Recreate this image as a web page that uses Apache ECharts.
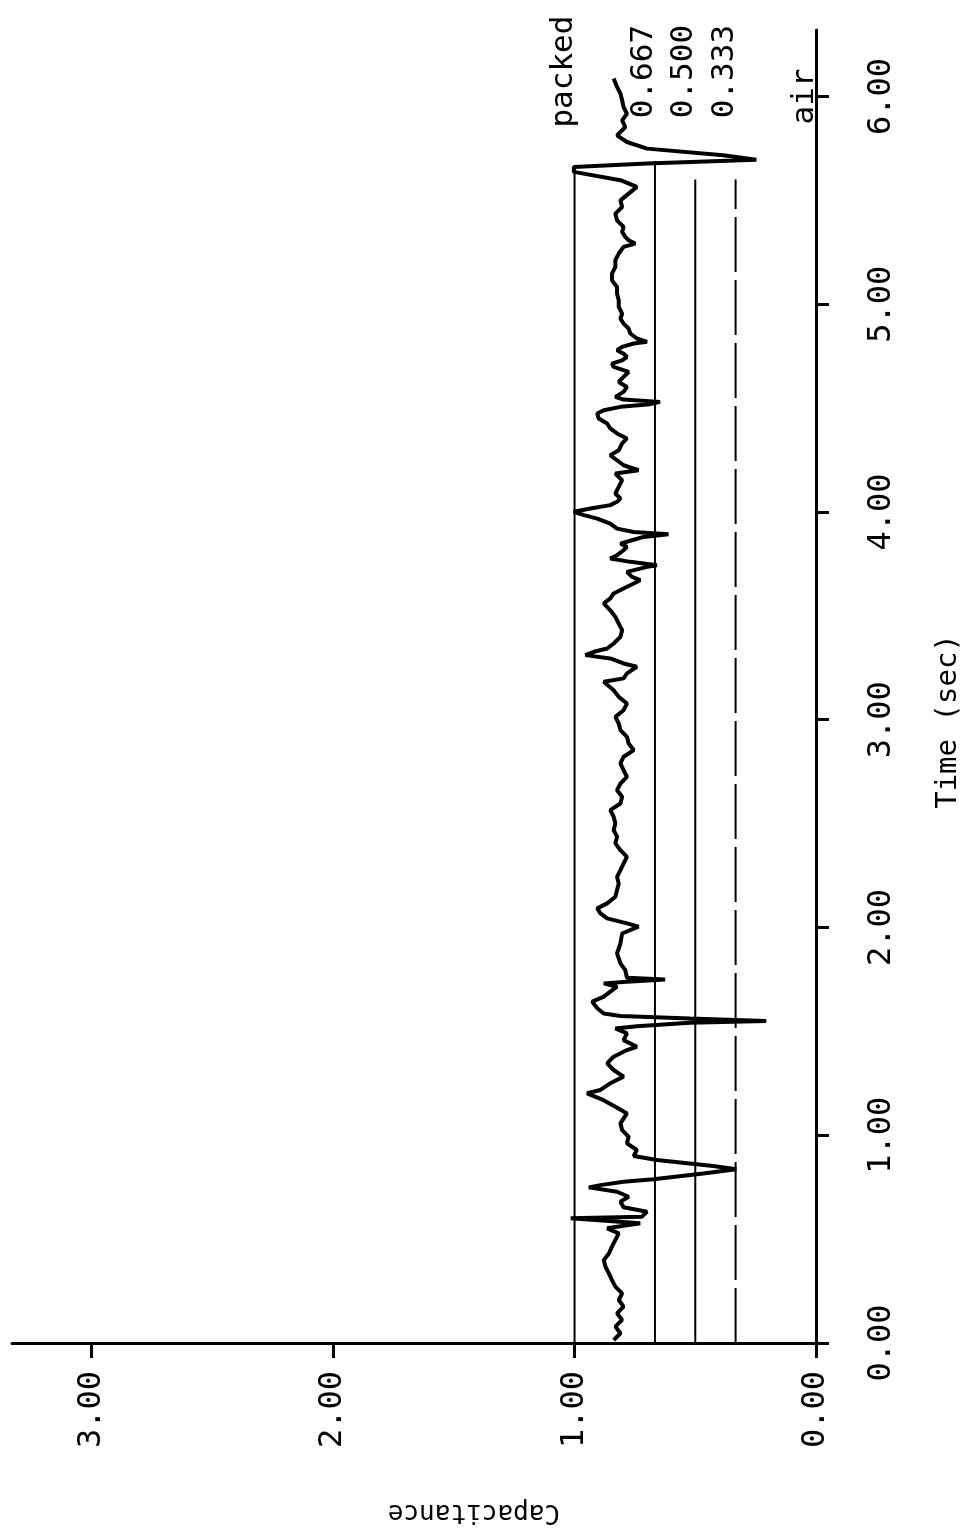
<!DOCTYPE html>
<html><head><meta charset="utf-8">
<script src="https://cdn.jsdelivr.net/npm/echarts@6/dist/echarts.min.js"></script>
<style>html,body{margin:0;padding:0;background:#fff}#c{width:971px;height:1537px}</style>
</head><body><div id="c"></div>
<script>
// Time (sec) of each trace sample
const timeSec = [
 0.014,0.047,0.079,0.111,0.143,0.175,0.207,0.239,0.271,0.303,0.335,0.367,0.399,0.431,0.464,0.496,0.528,0.552,
 0.576,0.600,0.608,0.632,0.653,0.680,0.704,0.728,0.749,0.760,0.776,0.788,0.816,0.836,0.852,0.881,0.900,0.929,
 0.961,0.993,1.025,1.057,1.105,1.137,1.169,1.202,1.218,1.250,1.282,1.314,1.346,1.378,1.410,1.426,1.458,1.490,
 1.514,1.525,1.542,1.550,1.562,1.574,1.586,1.611,1.643,1.667,1.691,1.715,1.731,1.739,1.750,1.758,1.795,1.827,
 1.875,1.923,1.971,2.004,2.020,2.044,2.068,2.092,2.116,2.148,2.180,2.212,2.244,2.276,2.308,2.340,2.372,2.405,
 2.437,2.469,2.501,2.533,2.565,2.597,2.629,2.661,2.693,2.725,2.757,2.790,2.822,2.854,2.886,2.918,2.950,2.982,
 3.014,3.046,3.078,3.110,3.142,3.183,3.199,3.223,3.255,3.271,3.295,3.311,3.327,3.343,3.367,3.399,3.431,3.463,
 3.495,3.527,3.560,3.584,3.608,3.632,3.656,3.672,3.688,3.712,3.736,3.744,3.760,3.776,3.792,3.816,3.832,3.848,
 3.864,3.880,3.893,3.904,3.920,3.944,3.968,3.985,4.001,4.017,4.033,4.049,4.065,4.089,4.121,4.153,4.185,4.201,
 4.225,4.249,4.273,4.297,4.330,4.354,4.378,4.402,4.426,4.450,4.474,4.490,4.506,4.519,4.530,4.541,4.554,4.578,
 4.602,4.626,4.650,4.674,4.698,4.714,4.730,4.746,4.762,4.779,4.795,4.811,4.819,4.835,4.859,4.883,4.907,4.931,
 4.955,4.987,5.019,5.051,5.083,5.115,5.147,5.180,5.212,5.244,5.276,5.292,5.308,5.324,5.348,5.372,5.404,5.436,
 5.468,5.500,5.565,5.597,5.637,5.661,5.677,5.696,5.717,5.749,5.781,5.813,5.853,5.885,5.917,5.949,5.982,6.014,
 6.046,6.086
];
// Capacitance of each trace sample
const capacitance = [
 0.838,0.810,0.831,0.803,0.824,0.797,0.817,0.803,0.831,0.845,0.858,0.872,0.879,0.858,0.845,0.831,0.817,0.865,
 0.728,1.016,0.721,0.700,0.797,0.810,0.776,0.824,0.941,0.893,0.797,0.673,0.467,0.330,0.426,0.659,0.755,0.742,
 0.783,0.776,0.803,0.810,0.783,0.831,0.880,0.948,0.893,0.852,0.797,0.838,0.865,0.838,0.783,0.742,0.797,0.783,
 0.831,0.742,0.522,0.206,0.522,0.810,0.879,0.906,0.927,0.879,0.852,0.824,0.879,0.783,0.625,0.783,0.790,0.810,
 0.824,0.810,0.803,0.735,0.783,0.865,0.893,0.906,0.865,0.831,0.824,0.817,0.824,0.810,0.797,0.783,0.810,0.831,
 0.824,0.838,0.831,0.838,0.852,0.810,0.803,0.824,0.810,0.783,0.797,0.810,0.797,0.755,0.776,0.783,0.810,0.817,
 0.831,0.797,0.783,0.817,0.838,0.879,0.797,0.783,0.742,0.797,0.852,0.955,0.920,0.865,0.838,0.810,0.803,0.817,
 0.831,0.852,0.879,0.852,0.838,0.797,0.755,0.728,0.762,0.783,0.700,0.659,0.769,0.852,0.824,0.797,0.783,0.810,
 0.762,0.714,0.611,0.755,0.824,0.852,0.906,0.961,1.003,0.934,0.852,0.824,0.810,0.831,0.817,0.803,0.831,0.735,
 0.797,0.824,0.852,0.817,0.803,0.783,0.824,0.852,0.865,0.900,0.906,0.879,0.810,0.687,0.646,0.797,0.831,0.797,
 0.783,0.817,0.797,0.776,0.838,0.845,0.803,0.783,0.797,0.824,0.803,0.755,0.700,0.742,0.769,0.776,0.797,0.810,
 0.803,0.817,0.817,0.824,0.824,0.845,0.845,0.831,0.831,0.817,0.797,0.749,0.776,0.790,0.803,0.797,0.824,0.831,
 0.803,0.810,0.742,0.810,1.003,1.003,0.700,0.247,0.385,0.700,0.783,0.824,0.790,0.803,0.783,0.797,0.803,0.810,
 0.824,0.838
];
// Reference levels drawn as vertical lines
const refValues = [1.0, 0.667, 0.5, 0.333];
const refLabels = ['packed', '0.667', '0.500', '0.333'];
const refTopTime = [5.66, 5.69, 5.60, 5.60];
const airValue = 0;
const airLabel = 'air';
const capAxisTitle = 'Capacitance';
const timeAxisTitle = 'Time (sec)';

const FONT = 'DejaVu Sans Mono';
const trace = timeSec.map((t, i) => [capacitance[i], t]);

const series = [{
  type: 'line', data: trace, symbol: 'none', silent: true,
  lineStyle: { color: '#000', width: 4 }, z: 5
}];
refValues.forEach((v, i) => {
  series.push({
    type: 'line', data: [[v, 0], [v, refTopTime[i]]], symbol: 'none', silent: true,
    lineStyle: { color: '#000', width: 2, type: i === 3 ? [55, 8] : 'solid' }, z: 3
  });
});
series.push({
  type: 'scatter', symbolSize: 0, silent: true,
  itemStyle: { opacity: 1, color: '#000' },
  data: refValues.map((v, i) => ({ value: [v, 6.12], name: refLabels[i] }))
    .concat([{ value: [airValue, 6.0], name: airLabel }]),
  label: {
    show: true, position: 'inside', rotate: 90, offset: [0, -11],
    formatter: p => p.name, color: '#000', opacity: 1, fontFamily: FONT, fontSize: 31
  }
});

const chart = echarts.init(document.getElementById('c'), null, { renderer: 'canvas' });
chart.setOption({
  animation: false,
  backgroundColor: '#fff',
  grid: { left: 12, right: 151, top: 30, bottom: 194, containLabel: false },
  xAxis: {
    type: 'value', inverse: true, min: 0, max: 3.33, interval: 1,
    name: capAxisTitle, nameLocation: 'middle', nameGap: 156, nameRotate: 180,
    nameTextStyle: { fontFamily: FONT, fontSize: 26, color: '#000', padding: [0, 120, 0, 0] },
    axisLine: { show: true, lineStyle: { color: '#000', width: 3 } },
    axisTick: { show: true, length: 15, lineStyle: { color: '#000', width: 3 } },
    axisLabel: { rotate: 90, margin: 28, fontFamily: FONT, fontSize: 32, color: '#000',
      formatter: v => v.toFixed(2), showMaxLabel: false },
    splitLine: { show: false }
  },
  yAxis: {
    type: 'value', position: 'right', min: 0, max: 6.32, interval: 1,
    name: timeAxisTitle, nameLocation: 'middle', nameGap: 118, nameRotate: 90,
    nameTextStyle: { fontFamily: FONT, fontSize: 29, color: '#000', padding: [0, 70, 0, 0] },
    axisLine: { show: true, lineStyle: { color: '#000', width: 3 } },
    axisTick: { show: true, length: 13, lineStyle: { color: '#000', width: 3 } },
    axisLabel: { rotate: 90, margin: 50, fontFamily: FONT, fontSize: 32, color: '#000',
      formatter: v => v.toFixed(2), showMaxLabel: false },
    splitLine: { show: false }
  },
  series: series
});
</script></body></html>
